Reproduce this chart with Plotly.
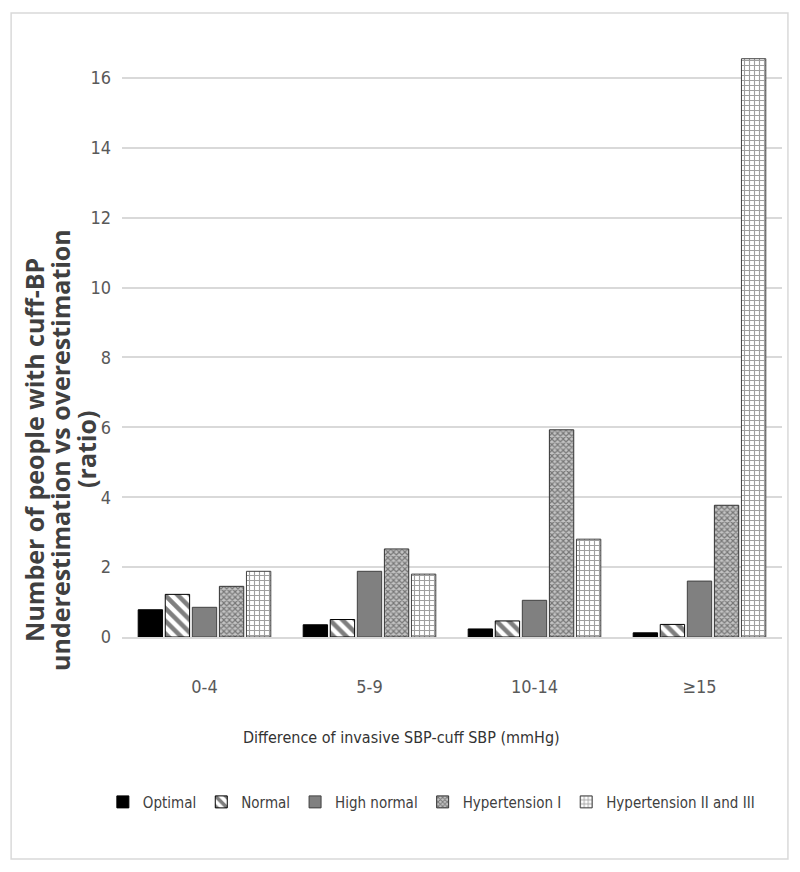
import plotly.graph_objects as go

# Datos
categorias = ['0-4', '5-9', '10-14', '≥15']
optimal = [0.78, 0.35, 0.23, 0.12]
normal = [1.22, 0.50, 0.46, 0.36]
high_normal = [0.85, 1.88, 1.05, 1.60]
hta_1 = [1.45, 2.52, 5.93, 3.77]
hta_2_3 = [1.88, 1.80, 2.80, 16.55]

series = [
    ('Optimal', optimal, dict(color='#000000'), '#000000'),
    ('Normal', normal, dict(color='#ffffff', pattern=dict(shape='\\', fgcolor='#000000', bgcolor='#ffffff', size=9, solidity=0.5)), '#000000'),
    ('High normal', high_normal, dict(color='#808080'), '#404040'),
    ('Hypertension I', hta_1, dict(color='#ffffff', pattern=dict(shape='x', fgcolor='#2a2a2a', bgcolor='#c4c4c4', size=4, solidity=0.5)), '#333333'),
    ('Hypertension II and III', hta_2_3, dict(color='#ffffff', pattern=dict(shape='+', fgcolor='#404040', bgcolor='#ffffff', size=5, solidity=0.4)), '#404040'),
]

fuente_estrecha = 'Liberation Sans Narrow, DejaVu Sans Condensed, Liberation Sans, sans-serif'
fuente_titulo_y = 'Open Sans, DejaVu Sans, sans-serif'

fig = go.Figure()
for nombre, valores, marcador, borde in series:
    fig.add_trace(go.Bar(
        x=categorias, y=valores, name=nombre,
        marker=dict(**marcador, line=dict(color=borde, width=1))
    ))

# La página tiene 8 px de margen, así que la figura ocupa 784 x 856
fig.update_layout(
    width=784, height=856,
    plot_bgcolor='white', paper_bgcolor='white',
    barmode='group', bargap=0.18, bargroupgap=0.1,
    margin=dict(l=114, r=10, t=35, b=227, autoexpand=False),
    font=dict(family=fuente_estrecha, color='#595959'),
    xaxis=dict(
        tickfont=dict(size=18, color='#595959', family=fuente_estrecha),
        ticklabelstandoff=33,
        showline=True, linecolor='#d9d9d9', linewidth=1.5,
        ticks='', showgrid=False,
    ),
    yaxis=dict(
        range=[0, 17], dtick=2, tick0=0,
        tickfont=dict(size=18, color='#595959', family=fuente_estrecha),
        ticklabelstandoff=10,
        showgrid=True, gridcolor='#d9d9d9', gridwidth=1.5,
        zeroline=False, ticks='', ticklen=0,
    ),
    legend=dict(
        orientation='h', x=-0.029, xanchor='left', y=-0.278, yanchor='middle',
        font=dict(size=15, color='#404040', family=fuente_estrecha),
        itemwidth=30, tracegroupgap=0, traceorder='normal',
    ),
)

# Título del eje Y, línea a línea para controlar el interlineado
lineas_titulo_y = ['Number of people with cuff-BP', 'underestimation vs overestimation', '(ratio)']
for texto, xpos in zip(lineas_titulo_y, [-0.1333, -0.0939, -0.0545]):
    fig.add_annotation(
        text=f'<b>{texto}</b>', xref='paper', yref='paper', x=xpos, y=0.315,
        xanchor='center', yanchor='middle', textangle=-90, showarrow=False,
        font=dict(size=25, color='#404040', family=fuente_titulo_y),
    )

# Título del eje X
fig.add_annotation(
    text='Difference of invasive SBP-cuff SBP (mmHg)',
    xref='paper', yref='paper', x=0.424, y=-0.170, xanchor='center', yanchor='middle',
    showarrow=False,
    font=dict(size=16, color='#333333', family=fuente_estrecha),
)

# Marco exterior del gráfico
fig.add_shape(type='rect', xref='paper', yref='paper',
              x0=-0.168, x1=1.009, y0=-0.3737, y1=1.0505,
              line=dict(color='#d9d9d9', width=1.5), fillcolor='rgba(0,0,0,0)', layer='below')

fig.write_html('out.html')
